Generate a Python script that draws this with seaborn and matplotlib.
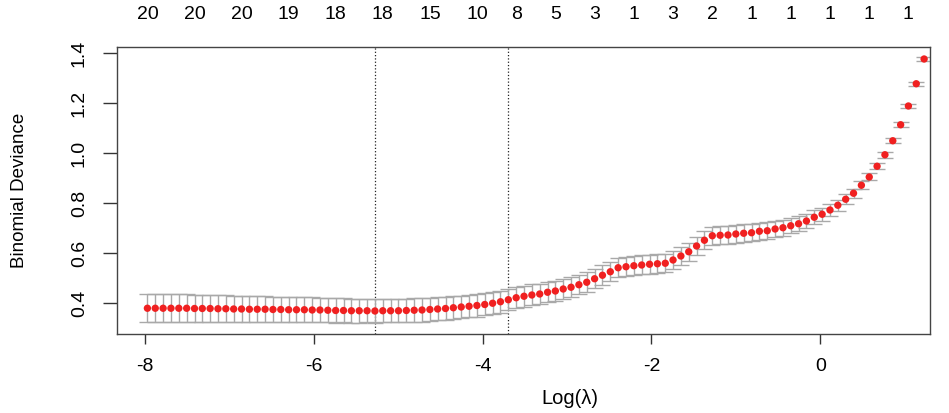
import matplotlib
matplotlib.use("Agg")
import matplotlib.pyplot as plt
import pandas as pd
import seaborn as sns

# log(lambda) grid used by the cross-validation
log_lambda = [
    -7.970, -7.877, -7.784, -7.691, -7.598, -7.505, -7.412, -7.320, -7.227, -7.134,
    -7.041, -6.948, -6.855, -6.762, -6.669, -6.576, -6.483, -6.390, -6.297, -6.204,
    -6.111, -6.018, -5.926, -5.833, -5.740, -5.647, -5.554, -5.461, -5.368, -5.275,
    -5.182, -5.089, -4.996, -4.903, -4.810, -4.717, -4.624, -4.532, -4.439, -4.346,
    -4.253, -4.160, -4.067, -3.974, -3.881, -3.788, -3.695, -3.602, -3.509, -3.416,
    -3.323, -3.230, -3.138, -3.045, -2.952, -2.859, -2.766, -2.673, -2.580, -2.487,
    -2.394, -2.301, -2.208, -2.115, -2.022, -1.929, -1.836, -1.744, -1.651, -1.558,
    -1.465, -1.372, -1.279, -1.186, -1.093, -1.000, -0.907, -0.814, -0.721, -0.628,
    -0.535, -0.442, -0.350, -0.257, -0.164, -0.071, 0.022, 0.115, 0.208, 0.301,
    0.394, 0.487, 0.580, 0.673, 0.766, 0.859, 0.952, 1.044, 1.137, 1.230,
]

# mean cross-validated binomial deviance
cvm = [
    0.379, 0.379, 0.379, 0.379, 0.379, 0.379, 0.378, 0.378, 0.378, 0.377,
    0.377, 0.376, 0.376, 0.375, 0.375, 0.375, 0.374, 0.374, 0.373, 0.373,
    0.373, 0.372, 0.372, 0.371, 0.370, 0.370, 0.369, 0.369, 0.369, 0.368,
    0.369, 0.369, 0.369, 0.370, 0.371, 0.372, 0.374, 0.376, 0.378, 0.381,
    0.384, 0.387, 0.390, 0.394, 0.399, 0.405, 0.413, 0.421, 0.427, 0.432,
    0.436, 0.443, 0.448, 0.456, 0.463, 0.473, 0.483, 0.497, 0.511, 0.525,
    0.541, 0.545, 0.549, 0.552, 0.555, 0.557, 0.559, 0.572, 0.588, 0.605,
    0.628, 0.651, 0.669, 0.671, 0.672, 0.676, 0.679, 0.681, 0.687, 0.689,
    0.696, 0.701, 0.709, 0.717, 0.728, 0.743, 0.755, 0.772, 0.791, 0.815,
    0.839, 0.871, 0.904, 0.947, 0.993, 1.049, 1.113, 1.188, 1.277, 1.376,
]

# standard error of the deviance
cvsd = [
    0.056, 0.056, 0.056, 0.055, 0.055, 0.055, 0.055, 0.054, 0.054, 0.054,
    0.053, 0.053, 0.053, 0.052, 0.052, 0.052, 0.051, 0.051, 0.051, 0.050,
    0.050, 0.050, 0.049, 0.049, 0.049, 0.048, 0.048, 0.048, 0.047, 0.047,
    0.047, 0.047, 0.047, 0.047, 0.047, 0.047, 0.046, 0.046, 0.046, 0.046,
    0.045, 0.045, 0.045, 0.044, 0.044, 0.044, 0.043, 0.043, 0.042, 0.042,
    0.041, 0.041, 0.040, 0.040, 0.040, 0.039, 0.039, 0.039, 0.039, 0.038,
    0.038, 0.038, 0.038, 0.038, 0.038, 0.037, 0.037, 0.037, 0.037, 0.036,
    0.036, 0.036, 0.036, 0.035, 0.035, 0.035, 0.035, 0.034, 0.034, 0.033,
    0.033, 0.032, 0.031, 0.030, 0.029, 0.027, 0.026, 0.024, 0.022, 0.020,
    0.018, 0.016, 0.014, 0.013, 0.012, 0.011, 0.010, 0.009, 0.008, 0.007,
]

# number of non-zero coefficients shown on top (at these lambda indices)
label_idx = [0, 6, 12, 18, 24, 30, 36, 42, 47, 52, 57, 62, 67, 72, 77, 82, 87, 92, 97]
nzero = [20, 20, 20, 19, 18, 18, 15, 10, 8, 5, 3, 1, 3, 2, 1, 1, 1, 1, 1]

idx_min = 29   # lambda.min
idx_1se = 46   # lambda.1se

x_ticks = [-8, -6, -4, -2, 0]
y_ticks = [0.4, 0.6, 0.8, 1.0, 1.2, 1.4]

sns.set_theme(style="white")
plt.rcParams['font.family'] = ['Liberation Sans', 'DejaVu Sans']

df = pd.DataFrame({'log_lambda': log_lambda, 'cvm': cvm, 'cvsd': cvsd})

fig = plt.figure(figsize=(9.49, 4.13), dpi=100)
ax = fig.add_axes([0.1233, 0.1913, 0.8567, 0.6949])

ax.errorbar(df['log_lambda'], df['cvm'], yerr=df['cvsd'], fmt='none',
            ecolor='#a9a9a9', elinewidth=1, capsize=5.7, capthick=1, zorder=2)
sns.scatterplot(data=df, x='log_lambda', y='cvm', color='#f02020', s=28,
                edgecolor='none', ax=ax, zorder=3, legend=False)

for i in (idx_min, idx_1se):
    ax.axvline(log_lambda[i], color='#222222', ls=':', lw=0.9, zorder=1)

for i, n in zip(label_idx, nzero):
    ax.text(log_lambda[i], 1.1115, str(n), transform=ax.get_xaxis_transform(),
            ha='center', va='center', fontsize=14, color='#000000')

ax.set_xlim(-8.33, 1.30)
ax.set_ylim(0.276, 1.424)
ax.set_xticks(x_ticks)
ax.set_xticklabels([str(v) for v in x_ticks])
ax.set_yticks(y_ticks)
ax.set_yticklabels([f"{v:.1f}" for v in y_ticks], rotation=90, va='center')

ax.tick_params(axis='x', direction='out', length=7, width=1, color='#333333',
               labelsize=14, pad=10, bottom=True, labelcolor='#000000')
ax.tick_params(axis='y', direction='out', length=10, width=1, color='#333333',
               labelsize=14, pad=11, left=True, labelcolor='#000000')
for sp in ax.spines.values():
    sp.set_color('#444444')
    sp.set_linewidth(1)

ax.set_xlabel('')
ax.set_ylabel('Binomial Deviance', fontsize=13.5, color='#000000')
ax.yaxis.set_label_coords(-0.109, 0.5)
fig.text(570 / 949, 1 - 398 / 413, 'Log(λ)', ha='center', va='center',
         fontsize=14.5, color='#000000')

fig.savefig('out.png', dpi=100)
